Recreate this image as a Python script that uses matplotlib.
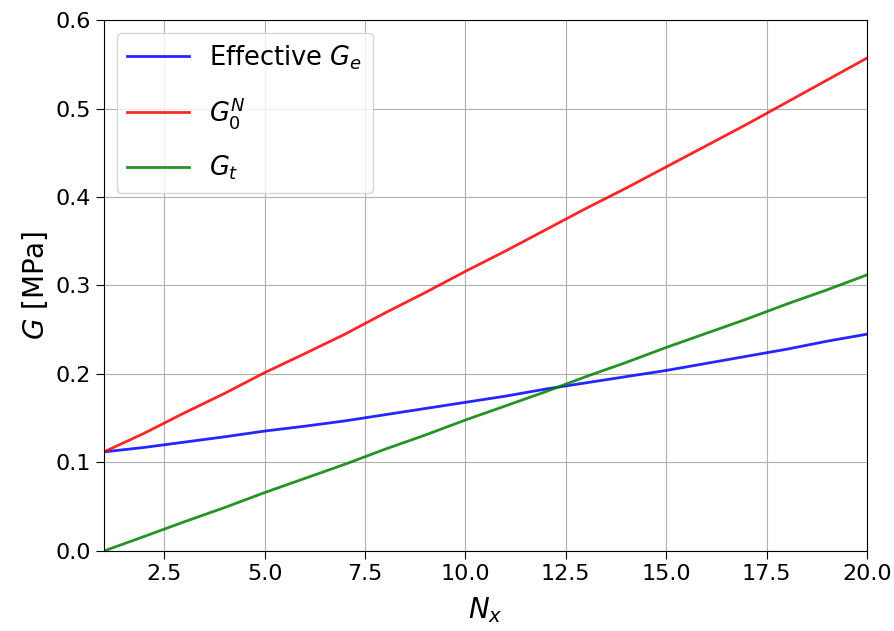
import matplotlib
matplotlib.use('Agg')
import matplotlib.pyplot as plt

# Number of cells in x direction
n_x = list(range(1, 21))

# Effective shear modulus G_e [MPa]
g_eff = [0.112, 0.117, 0.123, 0.129, 0.1355, 0.141, 0.147, 0.154, 0.161, 0.168,
         0.175, 0.183, 0.190, 0.197, 0.204, 0.212, 0.220, 0.228, 0.237, 0.245]

# Plateau modulus G_0^N [MPa]
g_0n = [0.112, 0.133, 0.156, 0.178, 0.2015, 0.223, 0.245, 0.269, 0.292, 0.316,
        0.339, 0.363, 0.387, 0.410, 0.434, 0.458, 0.482, 0.507, 0.532, 0.557]

# G_t [MPa]
g_t = [0.0, 0.0164, 0.033, 0.049, 0.066, 0.082, 0.098, 0.115, 0.131, 0.148,
       0.164, 0.180, 0.197, 0.213, 0.230, 0.246, 0.262, 0.279, 0.295, 0.312]

fig, ax = plt.subplots(figsize=(8.94, 6.31), dpi=100)
fig.subplots_adjust(left=0.1163, right=0.9698, top=0.9683, bottom=0.1268)

ax.plot(n_x, g_eff, color='b', lw=2, alpha=0.85, label='Effective $G_e$')
ax.plot(n_x, g_0n, color='r', lw=2, alpha=0.85, label='$G_0^N$')
ax.plot(n_x, g_t, color='g', lw=2, alpha=0.85, label='$G_t$')

ax.set_xlim(1, 20)
ax.set_ylim(0, 0.6)
ax.set_xlabel('$N_x$', fontsize=20, labelpad=8)
ax.set_ylabel('$G$ [MPa]', fontsize=20)
ax.tick_params(labelsize=16, length=6)
ax.grid(True)
ax.legend(loc='upper left', fontsize=18.5, labelspacing=0.9, handlelength=2.4,
          borderaxespad=0.5)

fig.savefig('out.png')
